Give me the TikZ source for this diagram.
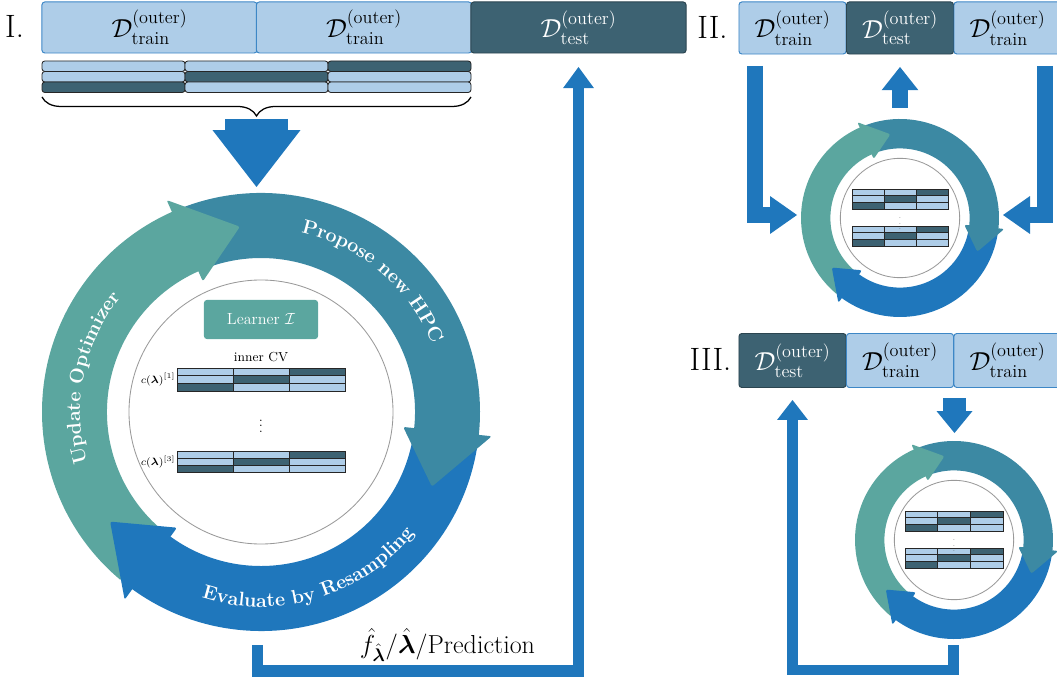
\RequirePackage{fix-cm}
\documentclass[tikz,border=0pt]{standalone}
\usepackage{amsmath}
\usepackage{amssymb}
\usepackage{tikz}
\usetikzlibrary{arrows.meta}
\usetikzlibrary{decorations.text}
\usetikzlibrary{decorations.pathreplacing}
\usepackage{xcolor}

\definecolor{foldlight}{HTML}{AECDE8}
\definecolor{folddark}{HTML}{3D6272}
\definecolor{edgeblue}{HTML}{3D87C6}
\definecolor{cyteal}{HTML}{5BA69F}
\definecolor{cypetrol}{HTML}{3C89A3}
\definecolor{cyblue}{HTML}{1F77BC}

\newcommand{\boxfont}{\fontsize{18.5}{22}\selectfont}
\newcommand{\numfont}{\fontsize{23}{27}\selectfont}
\newcommand{\arcfont}{\fontsize{14}{16}\selectfont\bfseries}

\tikzset{
  trainbox/.style={draw=edgeblue, fill=foldlight, rounded corners=2pt, line width=0.7pt,
    inner sep=0pt, font=\boxfont},
  testbox/.style={draw=folddark!70!black, fill=folddark, text=white, rounded corners=2pt,
    line width=0.7pt, inner sep=0pt, font=\boxfont},
  numlabel/.style={font=\numfont, inner sep=0pt},
  cellline/.style={draw=black!85, line width=0.6pt},
  innercircle/.style={draw=gray!80, line width=0.6pt},
  blockarrow/.style n args={3}{draw=cyblue, line width=#1,
    -{Triangle[width=#2, length=#3, line width=0pt]}},
}

% 3x3 cross-validation grid: [style] left, top, cell width, cell height
\newcommand{\cvgrid}[5][]{%
  \foreach \row in {1,2,3}{\foreach \col in {1,2,3}{%
    \pgfmathtruncatemacro{\cellsum}{\row+\col}%
    \ifnum\cellsum=4 \def\cellfill{folddark}\else\def\cellfill{foldlight}\fi
    \filldraw[cellline, fill=\cellfill, #1] ({#2+(\col-1)*#4},{-#3-(\row-1)*#5}) rectangle ++(#4,-#5);
  }}}

% ring pieces of the tuning cycle (radii of the big cycle)
\newcommand{\ringbody}[3]{\fill[#1] (#2:219) arc[start angle=#2, end angle=#3, radius=219]
  -- (#3:154) arc[start angle=#3, end angle=#2, radius=154] -- cycle;}
\newcommand{\ringhead}[3]{\fill[#1, rounded corners=1.5pt] (#2:143) -- (#3:186.5) -- (#2:232) -- cycle;}
\newcommand{\hpocycle}{%
  \ringbody{cyteal}{230}{112}
  \ringbody{cypetrol}{111}{-8}
  \ringbody{cyblue}{-9}{-128}
  \ringhead{cyteal}{114}{96.5}
  \ringhead{cypetrol}{-6}{-23.6}
  \ringhead{cyblue}{-126}{-144}
  \draw[innercircle] (0,0) circle[radius=132];}

\begin{document}
\begin{tikzpicture}[x=0.025cm, y=0.025cm]
\useasboundingbox (0,0) rectangle (1057,-681);

\coordinate (cycI) at (261,-412);
\coordinate (cycII) at (900,-218);
\coordinate (cycIII) at (954,-540);

% ---------- I. ----------
\node[numlabel] (labI) at (14.5,-26.5) {I.};
\node[trainbox, minimum width=5.375cm, minimum height=1.275cm] (iTrainA) at (149.5,-27.5)
  {$\mathcal{D}^{(\text{outer})}_{\text{train}}$};
\node[trainbox, minimum width=5.375cm, minimum height=1.275cm] (iTrainB) at (364,-27.5)
  {$\mathcal{D}^{(\text{outer})}_{\text{train}}$};
\node[testbox, minimum width=5.375cm, minimum height=1.275cm] (iTest) at (578.5,-27.5)
  {$\mathcal{D}^{(\text{outer})}_{\text{test}}$};

\cvgrid[rounded corners=2pt]{42}{61}{143}{10.5}

\coordinate (foldL) at (42,-97);
\coordinate (foldR) at (471,-97);
\draw[decorate, decoration={brace, mirror, amplitude=13.5pt}, line width=0.9pt] (foldL) -- (foldR);

\coordinate (braceTip) at (256.5,-119);
\coordinate (cycIin) at (256.5,-187);
\draw[blockarrow={44.8pt}{62.6pt}{40.5pt}] (braceTip) -- (cycIin);

% result back to the outer test set
\coordinate (outI) at (257.5,-645);
\coordinate (inTestI) at (578.5,-67);
\draw[blockarrow={8.2pt}{22pt}{15pt}] (outI) -- ++(0,-26) -| (inTestI);
\node[anchor=base, font=\boxfont, inner sep=0pt] (predLabel) at (447.5,-653)
  {$\hat{f}_{\hat{\boldsymbol{\lambda}}}/\hat{\boldsymbol{\lambda}}$/Prediction};

\begin{scope}[shift={(cycI)}]
  \hpocycle
  \path[decorate, decoration={text along path, text align=center, text color=white,
    text={|\arcfont|Propose new HPC}}] (79.5:184) arc[start angle=79.5, end angle=19.5, radius=184];
  \path[decorate, decoration={text along path, text align=center, text color=white,
    text={|\arcfont|Update Optimizer}}] (198.5:181) arc[start angle=198.5, end angle=138.5, radius=181];
  \path[decorate, decoration={text along path, text align=center, text color=white,
    text={|\arcfont|Evaluate by Resampling}}] (247:195) arc[start angle=247, end angle=327, radius=195];
\end{scope}

\node[fill=cyteal, text=white, rounded corners=2pt, minimum width=2.85cm, minimum height=0.975cm,
  font=\fontsize{11.5}{14}\selectfont] (learner) at (261,-319.5) {Learner $\mathcal{I}$};
\node[font=\fontsize{9.3}{11}\selectfont, inner sep=0pt] (innerCV) at (261,-357) {inner CV};
\cvgrid{177}{368}{56.3}{7.7}
\cvgrid{177}{451}{56.3}{7.3}
\node[anchor=east, font=\fontsize{7.5}{9}\selectfont, inner sep=1pt] (costA) at (177,-379.5)
  {$c(\boldsymbol{\lambda})^{[1]}$};
\node[anchor=east, font=\fontsize{7.5}{9}\selectfont, inner sep=1pt] (costB) at (177,-462)
  {$c(\boldsymbol{\lambda})^{[3]}$};
\node[font=\fontsize{9}{10}\selectfont, inner sep=0pt] (dotsI) at (261,-422) {$\vdots$};

% ---------- II. ----------
\node[numlabel] (labII) at (712.5,-27) {II.};
\node[trainbox, minimum width=2.675cm, minimum height=1.3cm] (iiTrainA) at (792.5,-28)
  {$\mathcal{D}^{(\text{outer})}_{\text{train}}$};
\node[testbox, minimum width=2.675cm, minimum height=1.3cm] (iiTest) at (900,-28)
  {$\mathcal{D}^{(\text{outer})}_{\text{test}}$};
\node[trainbox, minimum width=2.675cm, minimum height=1.3cm] (iiTrainB) at (1007.5,-28)
  {$\mathcal{D}^{(\text{outer})}_{\text{train}}$};

\coordinate (iiFromA) at (755,-66);
\coordinate (iiIntoA) at (797,-215);
\coordinate (iiFromB) at (1045,-66);
\coordinate (iiIntoB) at (1003,-215);
\coordinate (iiOut) at (900,-108);
\coordinate (iiBack) at (900,-67);
\draw[blockarrow={11.4pt}{27pt}{19.2pt}] (iiFromA) |- (iiIntoA);
\draw[blockarrow={11.4pt}{27pt}{19.2pt}] (iiFromB) |- (iiIntoB);
\draw[blockarrow={11.4pt}{26pt}{16.4pt}] (iiOut) -- (iiBack);

\begin{scope}[shift={(cycII)}, scale=0.452]
  \hpocycle
\end{scope}
\cvgrid{852}{189}{32}{6.7}
\cvgrid{852}{226}{32}{6.7}
\node[font=\fontsize{5}{6}\selectfont, inner sep=0pt, text=black!70] (dotsII) at (900,-219.5) {$\vdots$};

% ---------- III. ----------
\node[numlabel] (labIII) at (710.5,-359) {III.};
\node[testbox, minimum width=2.675cm, minimum height=1.35cm] (iiiTest) at (792.5,-360.5)
  {$\mathcal{D}^{(\text{outer})}_{\text{test}}$};
\node[trainbox, minimum width=2.675cm, minimum height=1.35cm] (iiiTrainA) at (900,-360.5)
  {$\mathcal{D}^{(\text{outer})}_{\text{train}}$};
\node[trainbox, minimum width=2.675cm, minimum height=1.35cm] (iiiTrainB) at (1007.5,-360.5)
  {$\mathcal{D}^{(\text{outer})}_{\text{train}}$};

\coordinate (iiiIn) at (954.5,-398);
\coordinate (iiiInTip) at (954.5,-433);
\draw[blockarrow={17pt}{25.6pt}{15.6pt}] (iiiIn) -- (iiiInTip);

\coordinate (outIII) at (953.5,-645);
\coordinate (inTestIII) at (792.5,-400);
\draw[blockarrow={7.8pt}{22pt}{14.2pt}] (outIII) -- ++(0,-25) -| (inTestIII);

\begin{scope}[shift={(cycIII)}, scale=0.452]
  \hpocycle
\end{scope}
\cvgrid{905}{511}{32.7}{6.7}
\cvgrid{905}{548}{32.7}{6.7}
\node[font=\fontsize{5}{6}\selectfont, inner sep=0pt, text=black!70] (dotsIII) at (954,-541.5) {$\vdots$};
\end{tikzpicture}
\end{document}
